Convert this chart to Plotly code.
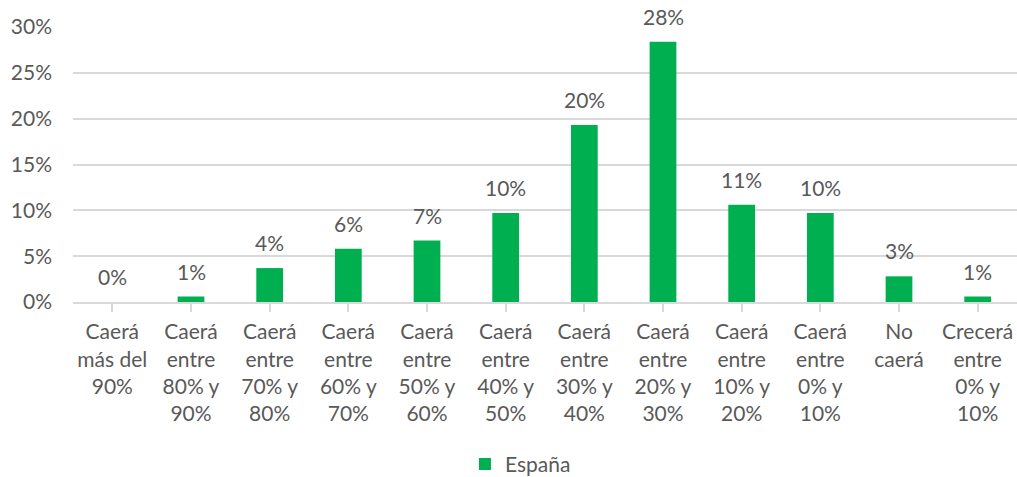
import plotly.graph_objects as go

categories = [
    "Caerá<br>más del<br>90%",
    "Caerá<br>entre<br>80% y<br>90%",
    "Caerá<br>entre<br>70% y<br>80%",
    "Caerá<br>entre<br>60% y<br>70%",
    "Caerá<br>entre<br>50% y<br>60%",
    "Caerá<br>entre<br>40% y<br>50%",
    "Caerá<br>entre<br>30% y<br>40%",
    "Caerá<br>entre<br>20% y<br>30%",
    "Caerá<br>entre<br>10% y<br>20%",
    "Caerá<br>entre<br>0% y<br>10%",
    "No<br>caerá",
    "Crecerá<br>entre<br>0% y<br>10%",
]
values = [0.0, 0.6, 3.7, 5.8, 6.7, 9.7, 19.3, 28.4, 10.6, 9.7, 2.8, 0.6]
labels = ["0%", "1%", "4%", "6%", "7%", "10%", "20%", "28%", "11%", "10%", "3%", "1%"]
y_ticks = [0, 5, 10, 15, 20, 25, 30]
y_tick_labels = ["0%", "5%", "10%", "15%", "20%", "25%", "30%"]

FONT = "Lato, Carlito, Calibri, sans-serif"
TXT = "#595959"
GREEN = "#00B050"
GRID = "#D9D9D9"
FS = 21

xs = list(range(len(categories)))

fig = go.Figure()
fig.add_trace(go.Bar(
    x=xs, y=values, name="España",
    marker=dict(color=GREEN, line=dict(width=0)),
))

for xi, v, t in zip(xs, values, labels):
    fig.add_annotation(x=xi, y=v, text=t, showarrow=False, yanchor="bottom",
                       yshift=11, font=dict(family=FONT, size=FS, color=TXT))

fig.update_layout(
    width=1017, height=477,
    margin=dict(l=73, r=0, t=27, b=175, autoexpand=False),
    paper_bgcolor="white", plot_bgcolor="white",
    bargap=0.66,
    font=dict(family=FONT, size=FS, color=TXT),
    showlegend=True,
    legend=dict(orientation="h", x=0.474, xanchor="center", y=-0.59, yanchor="middle",
                font=dict(family=FONT, size=FS, color=TXT)),
    xaxis=dict(
        tickmode="array", tickvals=xs, ticktext=categories,
        range=[-0.5, len(categories) - 0.5],
        showline=True, linecolor=GRID, linewidth=2,
        ticks="outside", tickson="boundaries", ticklen=8, tickcolor=GRID, tickwidth=2,
        showgrid=False, zeroline=False, automargin=False,
        tickfont=dict(family=FONT, size=FS, color=TXT),
        ticklabelstandoff=2,
    ),
    yaxis=dict(
        range=[0, 30], tickmode="array", tickvals=y_ticks, ticktext=y_tick_labels,
        showgrid=True, gridcolor=GRID, gridwidth=1.5,
        zeroline=False, showline=False, ticks="", automargin=False,
        tickfont=dict(family=FONT, size=FS, color=TXT),
        ticklabelstandoff=20,
    ),
)

fig.write_html(
    "out.html",
    config={"displayModeBar": False},
    post_script="document.body.style.margin='0px';document.body.style.overflow='hidden';",
)
